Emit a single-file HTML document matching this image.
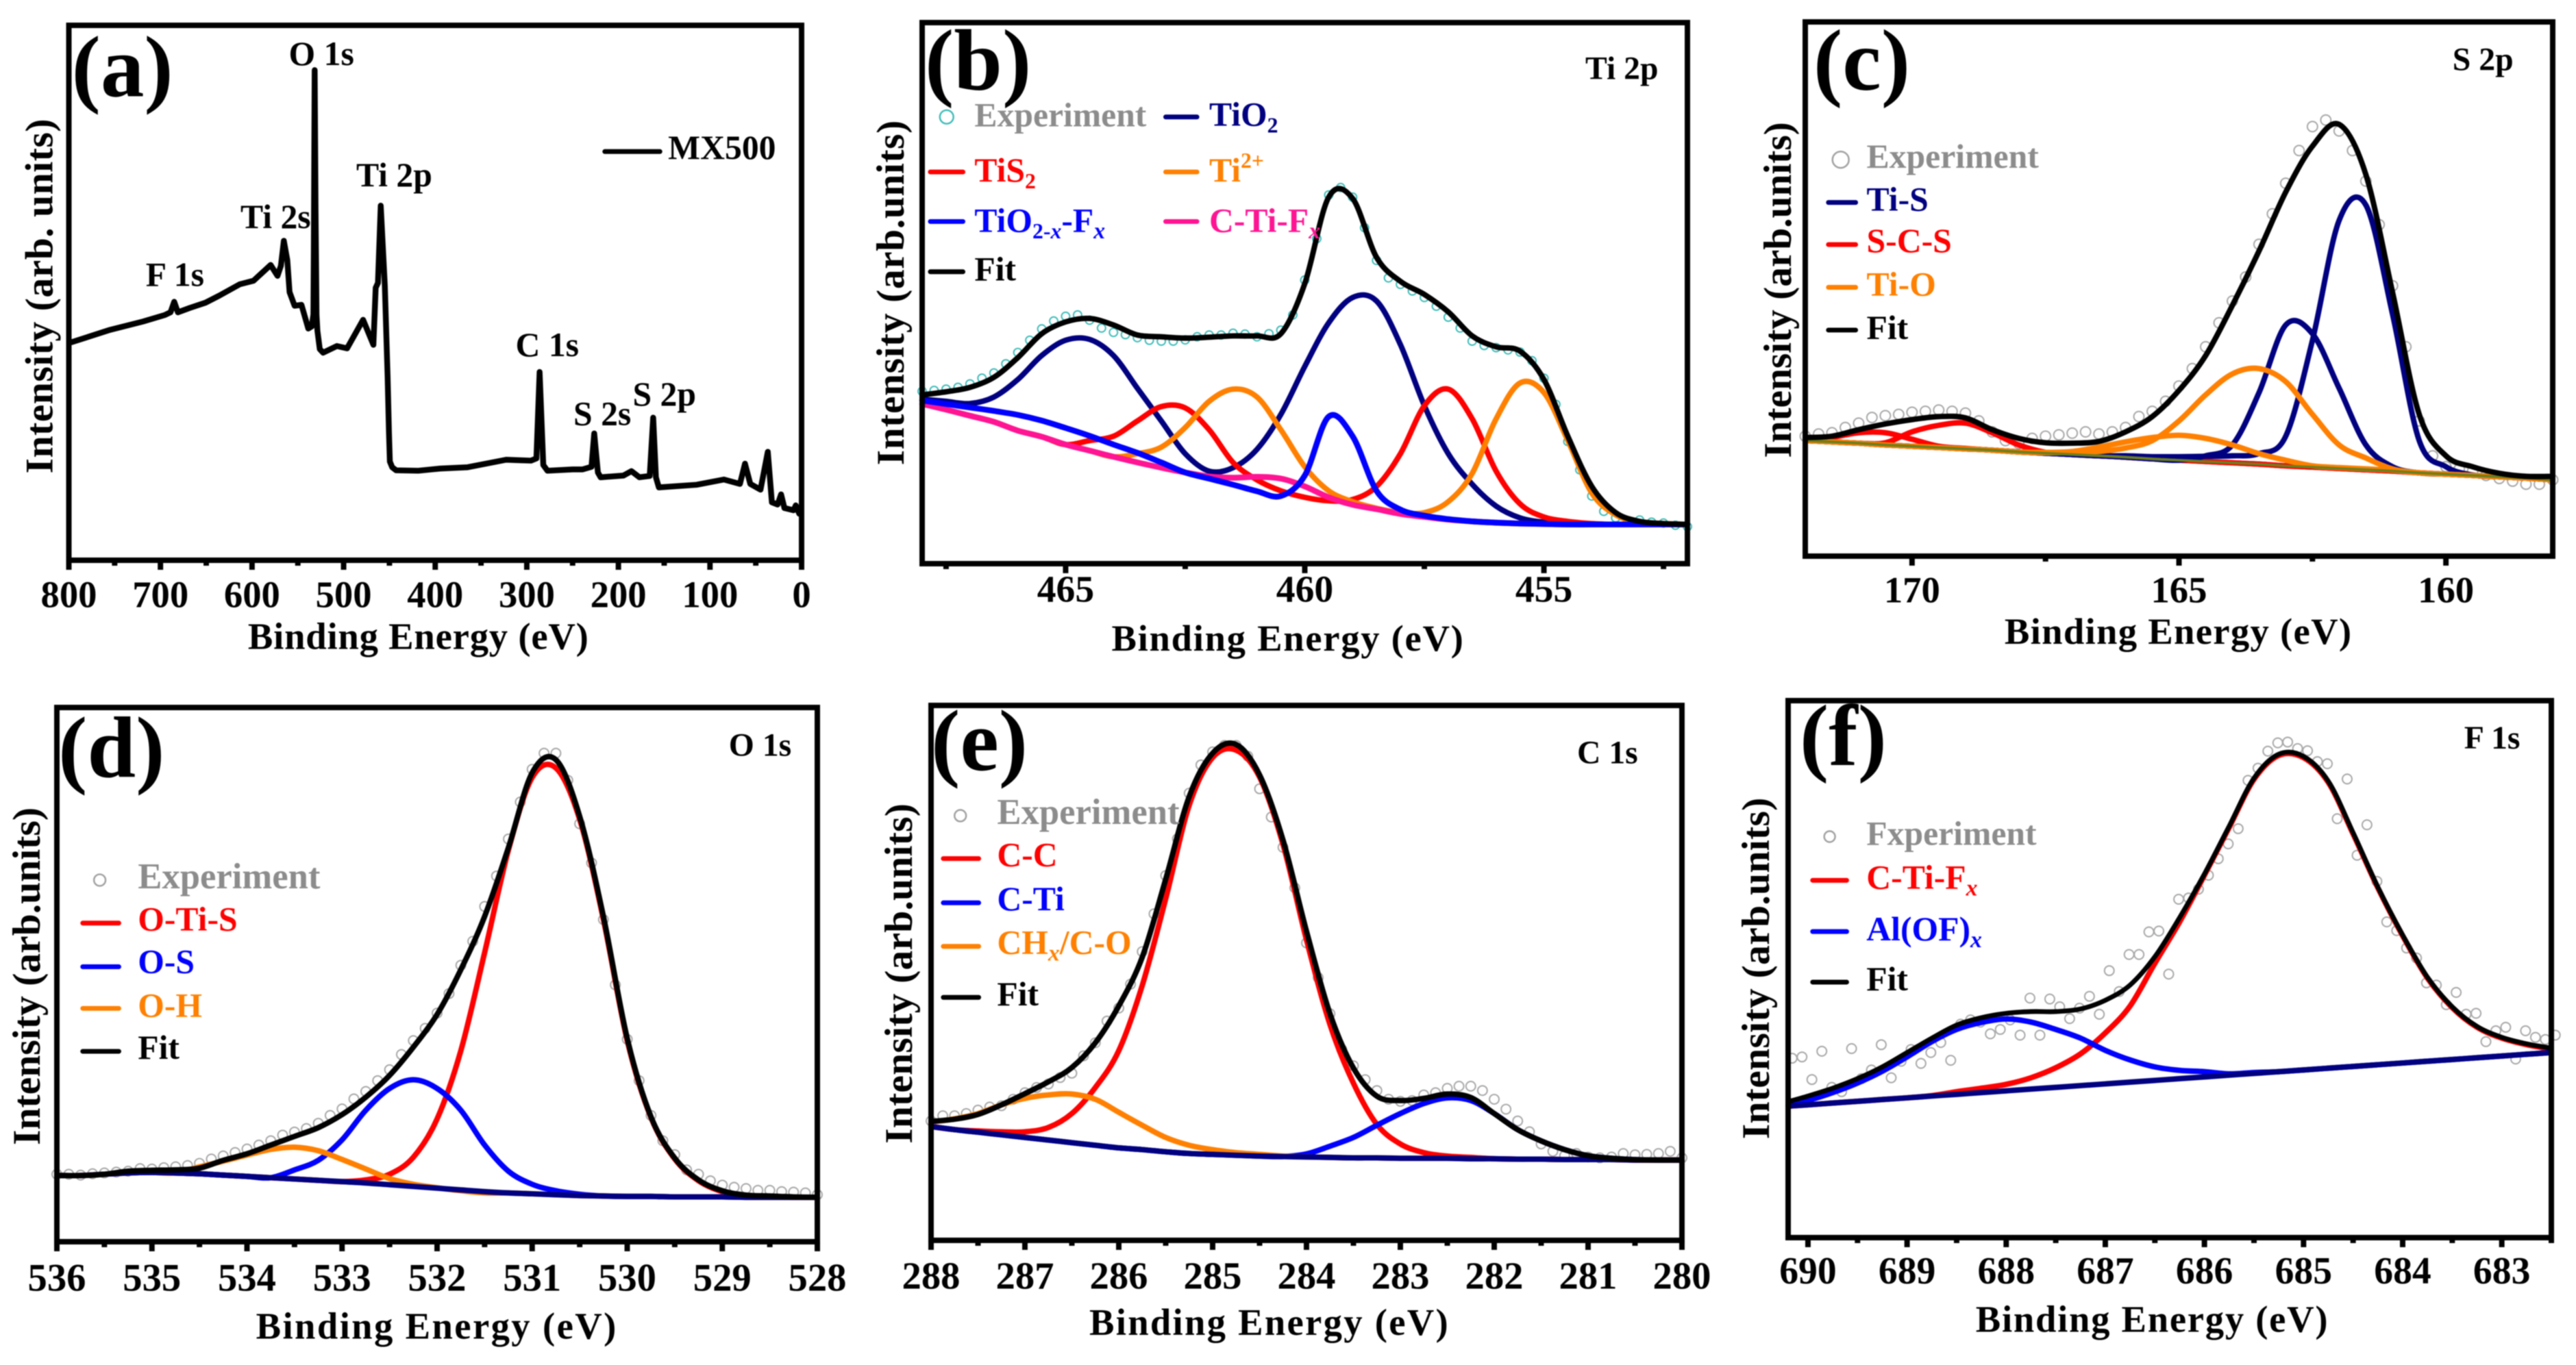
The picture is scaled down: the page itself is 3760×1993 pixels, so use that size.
<!DOCTYPE html>
<html lang="en">
<head>
<meta charset="utf-8">
<title>XPS spectra of MX500</title>
<style>
html,body{margin:0;padding:0;background:#fff;width:3760px;height:1993px;overflow:hidden}
svg{display:block;filter:blur(.7px)}
text{font-family:"Liberation Serif","DejaVu Serif",serif;font-weight:700;fill:#000}
.peak{font-size:50px}
.leg{font-size:50px}
.title{font-size:48px}
.tag{font-size:128px}
.xl{font-size:55px;text-anchor:middle}
.yl{font-size:58px;text-anchor:middle}
.frame{fill:none;stroke:#000;stroke-width:8}
.grey{fill:#8c8c8c}
</style>
</head>
<body>
<svg id="figure" xmlns="http://www.w3.org/2000/svg" width="3760" height="1993" viewBox="0 0 3760 1993">
<rect x="0" y="0" width="3760" height="1993" fill="#fff"/>

<g transform="translate(.11 .14) scale(.99396 .99617)">
<g id="marks-a"></g>
<rect class="frame" x="101" y="37" width="1076" height="784"/>
<text class="tag" x="105" y="141">(a)</text>
<text class="peak" x="424" y="95">O 1s</text>
<text class="peak" x="523" y="273">Ti 2p</text>
<text class="peak" x="353" y="334">Ti 2s</text>
<text class="peak" x="214" y="419">F 1s</text>
<text class="peak" x="757" y="522">C 1s</text>
<text class="peak" x="842" y="623">S 2s</text>
<text class="peak" x="929" y="594">S 2p</text>
<g>
<line x1="888" y1="222" x2="969" y2="222" stroke="#000" stroke-width="7" stroke-linecap="round"/>
<text class="leg" x="981" y="233">MX500</text>
</g>
<text class="xl" x="614" y="951" textLength="500">Binding Energy (eV)</text>
<text class="yl" transform="translate(77 434) rotate(-90)" textLength="520">Intensity (arb. units)</text>
</g>

<g transform="translate(10.56 .29) scale(.99289 .99122)">
<g id="marks-b"></g>
<rect class="frame" x="1345" y="33" width="1125" height="797"/>
<text class="tag" x="1349" y="132">(b)</text>
<text class="title" x="2320" y="116">Ti 2p</text>
<g>
<circle cx="1381" cy="172" r="10" fill="none" stroke="#3cbcb8" stroke-width="2.5"/>
<text class="leg grey" x="1422" y="186">Experiment</text>
</g>
<g>
<line x1="1703" y1="172" x2="1749" y2="172" stroke="#000080" stroke-width="7" stroke-linecap="round"/>
<text class="leg" style="fill:#000080" x="1767" y="185">TiO<tspan font-size="32" dy="10">2</tspan></text>
</g>
<g>
<line x1="1357" y1="253" x2="1405" y2="253" stroke="#ff0000" stroke-width="7" stroke-linecap="round"/>
<text class="leg" style="fill:#ff0000" x="1422" y="267">TiS<tspan font-size="32" dy="10">2</tspan></text>
</g>
<g>
<line x1="1703" y1="253" x2="1749" y2="253" stroke="#ff8000" stroke-width="7" stroke-linecap="round"/>
<text class="leg" style="fill:#ff8000" x="1767" y="267">Ti<tspan font-size="32" dy="-20">2+</tspan></text>
</g>
<g>
<line x1="1357" y1="326" x2="1405" y2="326" stroke="#0000ff" stroke-width="7" stroke-linecap="round"/>
<text class="leg" style="fill:#0000ff" x="1422" y="341">TiO<tspan font-size="32" dy="10">2-<tspan font-style="italic">x</tspan></tspan><tspan dy="-10">-F</tspan><tspan font-size="34" font-style="italic" dy="10">x</tspan></text>
</g>
<g>
<line x1="1703" y1="326" x2="1749" y2="326" stroke="#ff1493" stroke-width="7" stroke-linecap="round"/>
<text class="leg" style="fill:#ff1493" x="1767" y="341">C-Ti-F<tspan font-size="34" font-style="italic" dy="10">x</tspan></text>
</g>
<g>
<line x1="1357" y1="400" x2="1405" y2="400" stroke="#000" stroke-width="7" stroke-linecap="round"/>
<text class="leg" x="1422" y="413">Fit</text>
</g>
<text class="xl" x="1882" y="958" textLength="517">Binding Energy (eV)</text>
<text class="yl" transform="translate(1318 431) rotate(-90)" textLength="508">Intensity (arb.units)</text>
</g>

<g transform="translate(14.41 .28) scale(.99453 .99111)">
<g id="marks-c"></g>
<rect class="frame" x="2635" y="32" width="1097" height="787"/>
<text class="tag" x="2647" y="132">(c)</text>
<text class="title" x="3585" y="103">S 2p</text>
<g>
<circle cx="2687" cy="235" r="12" fill="none" stroke="#a0a0a0" stroke-width="2.5"/>
<text class="leg grey" x="2725" y="247">Experiment</text>
</g>
<g>
<line x1="2669" y1="298" x2="2709" y2="298" stroke="#000080" stroke-width="7" stroke-linecap="round"/>
<text class="leg" style="fill:#000080" x="2725" y="310">Ti-S</text>
</g>
<g>
<line x1="2669" y1="360" x2="2709" y2="360" stroke="#ff0000" stroke-width="7" stroke-linecap="round"/>
<text class="leg" style="fill:#ff0000" x="2725" y="371">S-C-S</text>
</g>
<g>
<line x1="2669" y1="423" x2="2709" y2="423" stroke="#ff8000" stroke-width="7" stroke-linecap="round"/>
<text class="leg" style="fill:#ff8000" x="2725" y="435">Ti-O</text>
</g>
<g>
<line x1="2669" y1="486" x2="2709" y2="486" stroke="#000" stroke-width="7" stroke-linecap="round"/>
<text class="leg" x="2725" y="499">Fit</text>
</g>
<text class="xl" x="3182" y="948" textLength="509">Binding Energy (eV)</text>
<text class="yl" transform="translate(2614 427) rotate(-90)" textLength="495">Intensity (arb.units)</text>
</g>

<g transform="translate(.52 4.95) scale(.99373 .99617)">
<g id="marks-d"></g>
<rect class="frame" x="83" y="1032" width="1117" height="783"/>
<text class="tag" x="85" y="1134">(d)</text>
<text class="title" x="1070" y="1103">O 1s</text>
<g>
<circle cx="146" cy="1285" r="8.5" fill="none" stroke="#a0a0a0" stroke-width="2.5"/>
<text class="leg grey" style="font-size:53px" x="202" y="1297">Experiment</text>
</g>
<g>
<line x1="121" y1="1348" x2="174" y2="1348" stroke="#ff0000" stroke-width="7" stroke-linecap="round"/>
<text class="leg" style="fill:#ff0000" x="202" y="1359">O-Ti-S</text>
</g>
<g>
<line x1="121" y1="1412" x2="174" y2="1412" stroke="#0000ff" stroke-width="7" stroke-linecap="round"/>
<text class="leg" style="fill:#0000ff" x="202" y="1421">O-S</text>
</g>
<g>
<line x1="121" y1="1473" x2="174" y2="1473" stroke="#ff8000" stroke-width="7" stroke-linecap="round"/>
<text class="leg" style="fill:#ff8000" x="202" y="1485">O-H</text>
</g>
<g>
<line x1="121" y1="1536" x2="174" y2="1536" stroke="#000" stroke-width="7" stroke-linecap="round"/>
<text class="leg" x="202" y="1547">Fit</text>
</g>
<text class="xl" x="640" y="1957" textLength="529">Binding Energy (eV)</text>
<text class="yl" transform="translate(58 1426) rotate(-90)" textLength="495">Intensity (arb.units)</text>
</g>

<g transform="translate(6.64 7.54) scale(.99365 .99364)">
<g id="marks-e"></g>
<rect class="frame" x="1361" y="1029" width="1103" height="786"/>
<text class="tag" x="1361" y="1124">(e)</text>
<text class="title" x="2310" y="1114">C 1s</text>
<g>
<circle cx="1404" cy="1191" r="8.5" fill="none" stroke="#a0a0a0" stroke-width="2.5"/>
<text class="leg grey" style="font-size:53px" x="1458" y="1203">Experiment</text>
</g>
<g>
<line x1="1379" y1="1254" x2="1431" y2="1254" stroke="#ff0000" stroke-width="7" stroke-linecap="round"/>
<text class="leg" style="fill:#ff0000" x="1458" y="1265">C-C</text>
</g>
<g>
<line x1="1379" y1="1319" x2="1431" y2="1319" stroke="#0000ff" stroke-width="7" stroke-linecap="round"/>
<text class="leg" style="fill:#0000ff" x="1458" y="1330">C-Ti</text>
</g>
<g>
<line x1="1379" y1="1383" x2="1431" y2="1383" stroke="#ff8000" stroke-width="7" stroke-linecap="round"/>
<text class="leg" style="fill:#ff8000" x="1458" y="1394">CH<tspan font-size="34" font-style="italic" dy="10">x</tspan><tspan dy="-10">/C-O</tspan></text>
</g>
<g>
<line x1="1379" y1="1458" x2="1431" y2="1458" stroke="#000" stroke-width="7" stroke-linecap="round"/>
<text class="leg" x="1458" y="1470">Fit</text>
</g>
<text class="xl" x="1857" y="1954" textLength="527">Binding Energy (eV)</text>
<text class="yl" transform="translate(1333 1423) rotate(-90)" textLength="500">Intensity (arb.units)</text>
</g>

<g transform="translate(16.29 1.6) scale(.99376 .99746)">
<g id="marks-f"></g>
<rect class="frame" x="2610" y="1024" width="1121" height="786"/>
<text class="tag" x="2627" y="1118">(f)</text>
<text class="title" x="3603" y="1094">F 1s</text>
<g>
<circle cx="2671" cy="1223" r="8" fill="none" stroke="#a0a0a0" stroke-width="2.5"/>
<text class="leg grey" x="2725" y="1235">Fxperiment</text>
</g>
<g>
<line x1="2646" y1="1287" x2="2696" y2="1287" stroke="#ff0000" stroke-width="7" stroke-linecap="round"/>
<text class="leg" style="fill:#ff0000" x="2725" y="1299">C-Ti-F<tspan font-size="34" font-style="italic" dy="10">x</tspan></text>
</g>
<g>
<line x1="2646" y1="1362" x2="2696" y2="1362" stroke="#0000ff" stroke-width="7" stroke-linecap="round"/>
<text class="leg" style="fill:#0000ff" x="2725" y="1375">Al(OF)<tspan font-size="34" font-style="italic" dy="10">x</tspan></text>
</g>
<g>
<line x1="2646" y1="1436" x2="2696" y2="1436" stroke="#000" stroke-width="7" stroke-linecap="round"/>
<text class="leg" x="2725" y="1448">Fit</text>
</g>
<text class="xl" x="3144" y="1948" textLength="517">Binding Energy (eV)</text>
<text class="yl" transform="translate(2582 1416) rotate(-90)" textLength="500">Intensity (arb.units)</text>
</g>
</svg>

<script>
/* Panel (a): survey spectrum */
const aEnergy=[797,755,719,695,689,685,681,668,650.8,635.8,613.4,598.4,579.7,572.2,568.5,565.3,561.5,559,553.5,546,538.6,534.8,533,532.6,531.6,530.6,529.6,528.6,526,522.4,507.4,496.2,478.7,467.5,465,462.5,459.5,455,452,450.5,449.5,447,442.6,418.6,394.6,364.6,322.5,295.5,289.5,286,282,277.5,250,239.3,229.4,226.4,222.4,219.4,194.5,185.8,177,165.8,162,159,155.8,114.7,84.7,67.3,61.8,56,44.8,36.9,32.4,26.2,22.4,18.7,8.8,6.3,2.5];
const aSurvey=[497,525,544,559,565,589,565,575,587,603,629,637,673,648,671,728,684,611,580,582,528,533,560,700,1117,800,560,523,481,473,488,483,548,491,621,632,808,626,418,290,225,212,205,204,209,212,229,227,232,429,217,204,207,207,213,289,200,189,193,203,189,192,325,189,166,172,184,174,220,174,161,247,132,127,150,119,114,125,106];
const aMajorTicks=[800,700,600,500,400,300,200,100,0];
const aMinorTicks=[750,650,550,450,350,250,150,50];

/* Panel (b): Ti 2p */
const bEnergy=[468,467.5,467,466.5,466,465.5,465,464.5,464,463.5,463,462.5,462,461.5,461,460.5,460,459.5,459,458.5,458,457.5,457,456.5,456,455.5,455,454.5,454,453.5,453,452.5,452];
const bFit=[387,394,404,427,472,527,554,562,547,524,520,517,519,522,522,527,642,840,837,702,647,617,577,522,497,487,422,292,177,117,97,92,90];
const bTiO2=[377,372,367,382,422,477,512,514,477,402,327,252,212,220,262,342,452,552,610,602,502,362,252,182,132,105,95,92,90,90,90,90,90];
const bTiS2=[366,353,339,325,305,291,273,282,292,327,360,357,307,232,192,167,152,144,147,177,252,362,400,332,212,137,107,97,92,90,90,90,90];
const bTi2Plus=[366,353,339,325,305,291,273,259,245,252,267,312,372,400,382,307,222,167,142,127,117,117,142,207,332,414,392,282,162,112,95,92,90];
const bCTiFx=[366,353,339,325,305,291,273,259,245,232,220,209,200,197,199,195,177,152,135,125,114,107,101,97,94,92,91,90,90,90,90,90,90];
const bTiO2xFx=[374,366,358,350,341,328,311,293,273,254,232,209,195,181,166,155,202,337,292,167,124,110,102,97,94,92,91,90,90,90,90,90,90];
const bExpEnergy=[468,467.75,467.5,467.25,467,466.75,466.5,466.25,466,465.75,465.5,465.25,465,464.75,464.5,464.25,464,463.75,463.5,463.25,463,462.75,462.5,462.25,462,461.75,461.5,461.25,461,460.75,460.5,460.25,460,459.75,459.5,459.25,459,458.75,458.5,458.25,458,457.75,457.5,457.25,457,456.75,456.5,456.25,456,455.75,455.5,455.25,455,454.75,454.5,454.25,454,453.75,453.5,453.25,453,452.75,452.5,452.25,452];
const bExperiment=[395,397,400,404,412,425,437,458,484,512,538,556,567,570,558,540,530,525,518,512,510,510,513,520,524,524,528,526,520,527,535,570,650,745,845,862,840,770,695,655,640,625,610,590,565,540,510,500,495,490,485,465,425,365,280,215,155,120,105,98,100,95,93,88,85];
const bMajorTicks=[465,460,455];
const bMinorTicks=[467.5,462.5,457.5,452.5];

/* Panel (c): S 2p */
const cEnergy=[172,171.5,171,170.5,170,169.5,169,168.5,168,167.5,167,166.5,166,165.5,165,164.5,164,163.5,163,162.5,162,161.5,161,160.5,160,159.5,159,158.5,158];
const cFit=[272,275,290,303,313,320,317,290,270,260,259,263,285,320,380,460,575,700,835,940,990,875,605,325,230,205,190,183,183];
const cBaseline=[265,262,259,255,252,249,246,243,239,236,233,230,227,223,220,217,214,211,207,204,201,198,195,191,188,185,182,179,175];
const cTiSMain=[265,262,259,255,252,249,246,243,239,236,233,230,230,228,228,229,230,235,275,495,770,805,555,265,205,186,182,179,175];
const cTiSSecond=[265,262,259,255,252,249,246,243,239,236,233,230,227,223,220,230,255,375,530,510,385,255,205,191,188,185,182,179,175];
const cSCSFirst=[265,272,283,283,268,252,247,243,239,236,233,230,227,223,220,217,214,211,207,204,201,198,195,191,188,185,182,179,175];
const cSCSSecond=[265,262,259,260,285,300,305,283,255,238,233,230,227,223,220,217,214,211,207,204,201,198,195,191,188,185,182,179,175];
const cTiOMain=[265,262,259,255,252,249,246,243,239,237,238,240,248,265,310,370,418,430,400,325,255,225,200,191,188,185,182,179,175];
const cTiOSecond=[265,262,259,255,252,249,246,243,239,238,240,250,262,272,277,270,255,235,220,207,203,200,197,191,188,185,182,179,175];
const cExpEnergy=[172,171.75,171.5,171.25,171,170.75,170.5,170.25,170,169.75,169.5,169.25,169,168.75,168.5,168.25,168,167.75,167.5,167.25,167,166.75,166.5,166.25,166,165.75,165.5,165.25,165,164.75,164.5,164.25,164,163.75,163.5,163.25,163,162.75,162.5,162.25,162,161.75,161.5,161.25,161,160.75,160.5,160.25,160,159.75,159.5,159.25,159,158.75,158.5,158.25,158];
const cExperiment=[275,280,283,295,305,318,322,325,330,332,335,332,328,310,285,265,258,270,275,278,282,285,280,285,295,320,332,355,390,430,480,535,585,640,715,785,855,930,985,1000,975,930,860,760,620,480,310,230,205,200,195,185,178,172,165,165,175];
const cMajorTicks=[170,165,160];
const cMinorTicks=[167.5,162.5];

/* Panel (d): O 1s */
const dEnergy=[536,535.75,535.5,535.25,535,534.75,534.5,534.25,534,533.75,533.5,533.25,533,532.75,532.5,532.25,532,531.75,531.5,531.25,531,530.75,530.5,530.25,530,529.75,529.5,529.25,529,528.75,528.5,528.25,528];
const dFit=[152,152,155,162,164,165,169,187,202,222,242,262,292,332,382,447,522,625,747,905,1077,1107,977,747,467,287,192,142,117,107,105,103,102];
const dBaseline=[152,152,155,158,159,158,156,153,150,147,144,141,138,135,131,127,123,119,115,112,110,108,106,105,104,104,103,103,103,102,102,102,102];
const dOTiS=[152,152,155,158,159,158,156,153,150,147,144,141,138,142,155,194,282,439,664,899,1066,1088,970,740,462,285,190,140,115,106,103,102,102];
const dOS=[152,152,155,158,159,158,156,153,150,147,165,187,234,302,352,372,352,302,222,162,132,117,109,105,104,104,103,103,103,102,102,102,102];
const dOH=[152,152,155,158,159,158,172,185,199,212,217,209,189,167,145,132,124,117,112,112,110,108,106,105,104,104,103,103,103,102,102,102,102];
const dExpEnergy=[536,535.875,535.75,535.625,535.5,535.375,535.25,535.125,535,534.875,534.75,534.625,534.5,534.375,534.25,534.125,534,533.875,533.75,533.625,533.5,533.375,533.25,533.125,533,532.875,532.75,532.625,532.5,532.375,532.25,532.125,532,531.875,531.75,531.625,531.5,531.375,531.25,531.125,531,530.875,530.75,530.625,530.5,530.375,530.25,530.125,530,529.875,529.75,529.625,529.5,529.375,529.25,529.125,529,528.875,528.75,528.625,528.5,528.375,528.25,528.125,528];
const dExperiment=[155,155,153,156,158,160,162,168,167,170,172,175,180,190,197,205,213,222,232,245,252,260,272,290,305,328,345,370,395,430,462,490,525,570,635,690,770,840,925,1010,1085,1122,1122,1060,960,870,740,590,465,370,290,232,200,165,155,140,130,125,122,118,118,115,114,112,108];
const dMajorTicks=[536,535,534,533,532,531,530,529,528];
const dMinorTicks=[535.5,534.5,533.5,532.5,531.5,530.5,529.5,528.5];

/* Panel (e): C 1s */
const eEnergy=[288,287.75,287.5,287.25,287,286.75,286.5,286.25,286,285.75,285.5,285.25,285,284.75,284.5,284.25,284,283.75,283.5,283.25,283,282.75,282.5,282.25,282,281.75,281.5,281.25,281,280.75,280.5,280.25,280];
const eFit=[274,279,290,312,338,365,398,455,540,652,832,1022,1122,1142,1072,922,712,522,397,332,322,327,337,329,292,255,229,209,195,189,186,185,185];
const eBaseline=[262,255,249,243,237,231,225,219,213,209,204,200,198,196,194,193,192,191,190,190,189,189,189,188,188,187,187,186,186,186,185,185,185];
const eCC=[262,255,252,250,250,260,292,352,437,587,787,1002,1112,1129,1067,912,692,497,362,267,222,202,194,191,188,187,187,186,186,186,185,185,185];
const eCTi=[262,255,249,243,237,231,225,219,213,209,204,200,198,196,194,193,199,217,237,265,292,315,328,322,292,255,229,209,195,189,186,185,185];
const eCHx=[272,280,292,312,327,335,337,325,295,265,237,219,209,202,198,194,192,191,190,190,189,189,189,188,188,187,187,186,186,186,185,185,185];
const eExpEnergy=[288,287.875,287.75,287.625,287.5,287.375,287.25,287.125,287,286.875,286.75,286.625,286.5,286.375,286.25,286.125,286,285.875,285.75,285.625,285.5,285.375,285.25,285.125,285,284.875,284.75,284.625,284.5,284.375,284.25,284.125,284,283.875,283.75,283.625,283.5,283.375,283.25,283.125,283,282.875,282.75,282.625,282.5,282.375,282.25,282.125,282,281.875,281.75,281.625,281.5,281.375,281.25,281.125,281,280.875,280.75,280.625,280.5,280.375,280.25,280.125,280];
const eExperiment=[275,287,287,292,300,307,310,325,340,352,360,375,385,425,455,505,535,590,665,752,840,925,1030,1095,1125,1140,1140,1115,1040,975,905,812,685,605,522,440,402,370,345,325,320,322,335,340,350,355,355,345,325,302,275,250,222,205,195,200,192,190,192,200,197,198,200,205,190];
const eMajorTicks=[288,287,286,285,284,283,282,281,280];
const eMinorTicks=[287.5,286.5,285.5,284.5,283.5,282.5,281.5,280.5];

/* Panel (f): F 1s */
const fEnergy=[690.2,690,689.75,689.5,689.25,689,688.75,688.5,688.25,688,687.75,687.5,687.25,687,686.75,686.5,686.25,686,685.75,685.5,685.25,685,684.75,684.5,684.25,684,683.75,683.5,683.25,683,682.75,682.5];
const fFit=[312,325,343,365,392,425,458,488,505,515,519,519,525,545,580,645,735,835,945,1055,1110,1105,1048,930,805,695,598,530,485,460,445,435];
const fBaseline=[302,305,309,313,317,321,325,329,333,337,341,345,349,353,357,361,365,369,373,377,381,385,389,393,397,401,405,409,413,417,421,425];
const fCTiFx=[302,305,309,313,317,321,326,335,343,352,367,390,422,470,532,630,725,832,942,1052,1107,1102,1045,927,803,693,596,528,483,458,443,433];
const fAlOFx=[305,315,333,355,382,415,450,478,494,502,495,478,458,430,408,392,384,381,376,379,381,385,389,393,397,401,405,409,413,417,421,425];
const fExpEnergy=[690.16,690.06,689.96,689.86,689.76,689.66,689.56,689.46,689.36,689.26,689.16,689.06,688.96,688.86,688.76,688.66,688.56,688.46,688.36,688.26,688.16,688.06,687.96,687.86,687.76,687.66,687.56,687.46,687.36,687.26,687.16,687.06,686.96,686.86,686.76,686.66,686.56,686.46,686.36,686.26,686.16,686.06,685.96,685.86,685.76,685.66,685.56,685.46,685.36,685.26,685.16,685.06,684.96,684.86,684.76,684.66,684.56,684.46,684.36,684.26,684.16,684.06,683.96,683.86,683.76,683.66,683.56,683.46,683.36,683.26,683.16,683.06,682.96,682.86,682.76,682.66,682.56,682.46];
const fExperiment=[412,415,363,428,345,335,434,365,385,443,367,405,432,400,425,448,407,490,500,495,468,478,500,465,550,465,548,530,503,527,554,513,613,565,650,650,702,704,605,777,780,800,832,870,904,939,1050,1078,1117,1136,1138,1123,1118,1093,1088,962,1053,878,948,818,725,705,665,642,585,580,535,563,513,515,450,475,483,410,475,460,455,465];
const fMajorTicks=[690,689,688,687,686,685,684,683];
const fMinorTicks=[689.5,688.5,687.5,686.5,685.5,684.5,683.5,682.5];

const NS='http://www.w3.org/2000/svg';

function makeXScale(left,right,eHigh,eLow){
  return function(e){return left+(eHigh-e)/(eHigh-eLow)*(right-left);};
}
function makeYScale(bottom,top,iMax){
  return function(v){return bottom-v/iMax*(bottom-top);};
}
function smoothPath(pts){
  let d='M'+pts[0][0].toFixed(1)+' '+pts[0][1].toFixed(1);
  for(let i=0;i<pts.length-1;i++){
    const p0=pts[Math.max(i-1,0)],p1=pts[i],p2=pts[i+1],p3=pts[Math.min(i+2,pts.length-1)];
    const c1x=p1[0]+(p2[0]-p0[0])/6,c1y=p1[1]+(p2[1]-p0[1])/6;
    const c2x=p2[0]-(p3[0]-p1[0])/6,c2y=p2[1]-(p3[1]-p1[1])/6;
    d+='C'+c1x.toFixed(1)+' '+c1y.toFixed(1)+' '+c2x.toFixed(1)+' '+c2y.toFixed(1)+' '+p2[0].toFixed(1)+' '+p2[1].toFixed(1);
  }
  return d;
}
function linePath(pts){
  return 'M'+pts.map(function(p){return p[0].toFixed(1)+' '+p[1].toFixed(1);}).join('L');
}
function drawCurve(host,xs,ys,energies,values,color,width,smooth,label){
  const pts=energies.map(function(e,i){return [xs(e),ys(values[i])];});
  const path=document.createElementNS(NS,'path');
  
  
  path.setAttribute('d',smooth?smoothPath(pts):linePath(pts));
  path.setAttribute('fill','none');
  path.setAttribute('stroke',color);
  path.setAttribute('stroke-width',width);
  path.setAttribute('stroke-linejoin','round');
  path.setAttribute('stroke-linecap','round');
  host.appendChild(path);
}
function drawPoints(host,xs,ys,energies,values,color,radius){
  energies.forEach(function(e,i){
    const c=document.createElementNS(NS,'circle');
    
    
    c.setAttribute('cx',xs(e).toFixed(1));
    c.setAttribute('cy',ys(values[i]).toFixed(1));
    c.setAttribute('r',radius);
    c.setAttribute('fill','none');
    c.setAttribute('stroke',color);
    c.setAttribute('stroke-width','2');
    host.appendChild(c);
  });
}
function drawTicks(host,xs,bottom,labelY,major,minor,fontSize){
  major.forEach(function(v){
    const t=document.createElementNS(NS,'line');
    
    
    t.setAttribute('x1',xs(v));
    t.setAttribute('x2',xs(v));
    t.setAttribute('y1',bottom);
    t.setAttribute('y2',bottom+14);
    t.setAttribute('stroke','#000');
    t.setAttribute('stroke-width','8');
    host.appendChild(t);
    const label=document.createElementNS(NS,'text');
    
    
    label.setAttribute('x',xs(v));
    label.setAttribute('y',labelY);
    label.setAttribute('text-anchor','middle');
    label.setAttribute('font-size',fontSize);
    label.textContent=String(v);
    host.appendChild(label);
  });
  minor.forEach(function(v){
    const t=document.createElementNS(NS,'line');
    
    
    t.setAttribute('x1',xs(v));
    t.setAttribute('x2',xs(v));
    t.setAttribute('y1',bottom);
    t.setAttribute('y2',bottom+8);
    t.setAttribute('stroke','#000');
    t.setAttribute('stroke-width','8');
    host.appendChild(t);
  });
}

const NAVY='#000080',RED='#ff0000',BLUE='#0000ff',ORANGE='#ff8000',PINK='#ff1493',BLACK='#000000',GREY='#a6a6a6',TEAL='#3cbcb8',OLIVE='#6b7f1e';

(function(){
  const host=document.getElementById('marks-a');
  const xs=makeXScale(101,1177,800,0),ys=makeYScale(821,37,1219);
  drawTicks(host,xs,821,890,aMajorTicks,aMinorTicks,55);
  drawCurve(host,xs,ys,aEnergy,aSurvey,BLACK,8.5,false,'survey-spectrum-line');
})();

(function(){
  const host=document.getElementById('marks-b');
  const xs=makeXScale(1345,2470,468,452),ys=makeYScale(830,33,1240);
  drawTicks(host,xs,830,886,bMajorTicks,bMinorTicks,56);
  drawPoints(host,xs,ys,bExpEnergy,bExperiment,TEAL,6);
  drawCurve(host,xs,ys,bEnergy,bTiO2,NAVY,8,true,'tio2-curve');
  drawCurve(host,xs,ys,bEnergy,bTiS2,RED,8,true,'tis2-curve');
  drawCurve(host,xs,ys,bEnergy,bTi2Plus,ORANGE,8,true,'ti2plus-curve');
  drawCurve(host,xs,ys,bEnergy,bCTiFx,PINK,8.5,true,'c-ti-fx-curve');
  drawCurve(host,xs,ys,bEnergy,bTiO2xFx,BLUE,8.5,true,'tio2-x-fx-curve');
  drawCurve(host,xs,ys,bEnergy,bFit,BLACK,8,true,'fit-curve');
})();

(function(){
  const host=document.getElementById('marks-c');
  const xs=makeXScale(2635,3732,172,158),ys=makeYScale(819,32,1225);
  drawTicks(host,xs,819,887,cMajorTicks,cMinorTicks,55);
  drawPoints(host,xs,ys,cExpEnergy,cExperiment,GREY,7.5);
  drawCurve(host,xs,ys,cEnergy,cSCSFirst,RED,8,true,'s-c-s-curve-1');
  drawCurve(host,xs,ys,cEnergy,cSCSSecond,RED,8,true,'s-c-s-curve-2');
  drawCurve(host,xs,ys,cEnergy,cTiSMain,NAVY,8,true,'ti-s-curve-1');
  drawCurve(host,xs,ys,cEnergy,cTiSSecond,NAVY,8,true,'ti-s-curve-2');
  drawCurve(host,xs,ys,cEnergy,cTiOSecond,ORANGE,8,true,'ti-o-curve-2');
  drawCurve(host,xs,ys,cEnergy,cTiOMain,ORANGE,8,true,'ti-o-curve-1');
  drawCurve(host,xs,ys,cEnergy,cBaseline,OLIVE,4,true,'background-line');
  drawCurve(host,xs,ys,cEnergy,cFit,BLACK,8,true,'fit-curve');
})();

(function(){
  const host=document.getElementById('marks-d');
  const xs=makeXScale(83,1200,536,528),ys=makeYScale(1815,1032,1227);
  drawTicks(host,xs,1815,1887,dMajorTicks,dMinorTicks,57);
  drawPoints(host,xs,ys,dExpEnergy,dExperiment,GREY,7);
  drawCurve(host,xs,ys,dEnergy,dOTiS,RED,8,true,'o-ti-s-curve');
  drawCurve(host,xs,ys,dEnergy,dOS,BLUE,8,true,'o-s-curve');
  drawCurve(host,xs,ys,dEnergy,dOH,ORANGE,8,true,'o-h-curve');
  drawCurve(host,xs,ys,dEnergy,dBaseline,NAVY,8,true,'background-line');
  drawCurve(host,xs,ys,dEnergy,dFit,BLACK,8,true,'fit-curve');
})();

(function(){
  const host=document.getElementById('marks-e');
  const xs=makeXScale(1361,2464,288,280),ys=makeYScale(1815,1029,1232);
  drawTicks(host,xs,1815,1886,eMajorTicks,eMinorTicks,57);
  drawPoints(host,xs,ys,eExpEnergy,eExperiment,GREY,7);
  drawCurve(host,xs,ys,eEnergy,eCC,RED,8,true,'c-c-curve');
  drawCurve(host,xs,ys,eEnergy,eCTi,BLUE,8,true,'c-ti-curve');
  drawCurve(host,xs,ys,eEnergy,eCHx,ORANGE,8,true,'chx-c-o-curve');
  drawCurve(host,xs,ys,eEnergy,eBaseline,NAVY,8,true,'background-line');
  drawCurve(host,xs,ys,eEnergy,eFit,BLACK,8,true,'fit-curve');
})();

(function(){
  const host=document.getElementById('marks-f');
  const xs=makeXScale(2610,3731,690.2,682.5),ys=makeYScale(1810,1024,1233);
  drawTicks(host,xs,1810,1877,fMajorTicks,fMinorTicks,56);
  drawPoints(host,xs,ys,fExpEnergy,fExperiment,GREY,7);
  drawCurve(host,xs,ys,fEnergy,fCTiFx,RED,8,true,'c-ti-fx-curve');
  drawCurve(host,xs,ys,fEnergy,fAlOFx,BLUE,8,true,'al-of-x-curve');
  drawCurve(host,xs,ys,fEnergy,fBaseline,NAVY,8,true,'background-line');
  drawCurve(host,xs,ys,fEnergy,fFit,BLACK,7,true,'fit-curve');
})();
</script>
</body>
</html>
